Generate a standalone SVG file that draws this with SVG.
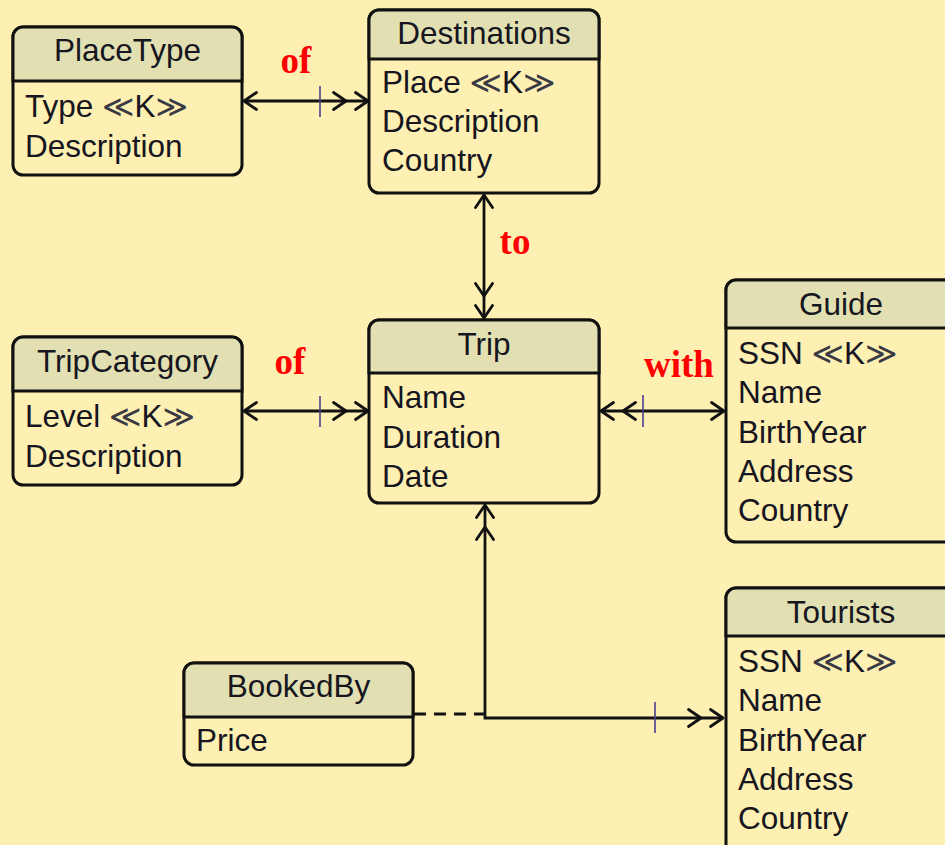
<svg xmlns="http://www.w3.org/2000/svg" width="945" height="845" viewBox="0 0 945 845">
<style>
.bg{fill:#FEEFB3}
.box{fill:#FEEFB3;stroke:#111;stroke-width:3}
.hdr{fill:#E2E0B2;stroke:#111;stroke-width:3}
.t{font-family:"Liberation Sans",Arial,sans-serif;font-size:31.5px;fill:#161620}
.h{text-anchor:middle}
.k{font-family:"DejaVu Sans","Liberation Sans",sans-serif;font-size:31px;fill:#3a3a44}
.lbl{font-family:"Liberation Serif","Times New Roman",serif;font-weight:bold;font-size:37px;fill:#F00;text-anchor:middle}
.ln{fill:none;stroke:#111;stroke-width:2.8}
.dash{fill:none;stroke:#111;stroke-width:2.8;stroke-dasharray:12 8}
.tick{stroke:#4a3f8f;stroke-width:1.6}
.ah{fill:none;stroke:#111;stroke-width:2.8;stroke-linejoin:round;stroke-linecap:round}
</style>
<defs>
<marker id="a1" markerUnits="userSpaceOnUse" viewBox="-16 -12 20 24" refX="0" refY="0" markerWidth="20" markerHeight="24" orient="auto-start-reverse">
<path class="ah" d="M-12.5 -8.5 L0 0 L-12.5 8.5"/>
</marker>
<marker id="a2" markerUnits="userSpaceOnUse" viewBox="-38 -12 42 24" refX="0" refY="0" markerWidth="42" markerHeight="24" orient="auto-start-reverse">
<path class="ah" d="M-12.5 -8.5 L0 0 L-12.5 8.5 M-34.5 -8.5 L-22 0 L-34.5 8.5"/>
</marker>
</defs>
<rect class="bg" x="0" y="0" width="945" height="845"/>

<g id="connectors">
<path class="ln" d="M244 101 H368" marker-start="url(#a1)" marker-end="url(#a2)"/>
<line class="tick" x1="320" y1="86" x2="320" y2="117"/>
<path class="ln" d="M484 195 V318" marker-start="url(#a1)" marker-end="url(#a2)"/>
<path class="ln" d="M244 411 H368" marker-start="url(#a1)" marker-end="url(#a2)"/>
<line class="tick" x1="320" y1="396" x2="320" y2="427"/>
<path class="ln" d="M601 411 H724" marker-start="url(#a2)" marker-end="url(#a1)"/>
<line class="tick" x1="643" y1="395" x2="643" y2="427"/>
<path class="ln" d="M485 505 V718 H723" marker-start="url(#a2)" marker-end="url(#a2)"/>
<line class="tick" x1="655" y1="702" x2="655" y2="733"/>
<path class="dash" d="M414 714 H485"/>
<text class="lbl" x="296" y="73">of</text>
<text class="lbl" x="515" y="254">to</text>
<text class="lbl" x="290" y="374">of</text>
<text class="lbl" x="679" y="377">with</text>
</g>

<g id="PlaceType">
<rect class="box" x="13" y="27" width="229" height="148" rx="10"/>
<path class="hdr" d="M13 81 V37 A10 10 0 0 1 23 27 H232 A10 10 0 0 1 242 37 V81 Z"/>
<text class="t h" x="127.5" y="61">PlaceType</text>
<text class="t" x="25" y="117">Type <tspan class="k">≪</tspan>K<tspan class="k">≫</tspan></text>
<text class="t" x="25" y="157">Description</text>
</g>

<g id="Destinations">
<rect class="box" x="369" y="10" width="230" height="183" rx="10"/>
<path class="hdr" d="M369 59 V20 A10 10 0 0 1 379 10 H589 A10 10 0 0 1 599 20 V59 Z"/>
<text class="t h" x="484" y="44">Destinations</text>
<text class="t" x="382" y="93">Place <tspan class="k">≪</tspan>K<tspan class="k">≫</tspan></text>
<text class="t" x="382" y="132">Description</text>
<text class="t" x="382" y="171">Country</text>
</g>

<g id="TripCategory">
<rect class="box" x="13" y="337" width="229" height="148" rx="10"/>
<path class="hdr" d="M13 391 V347 A10 10 0 0 1 23 337 H232 A10 10 0 0 1 242 347 V391 Z"/>
<text class="t h" x="127.5" y="372">TripCategory</text>
<text class="t" x="25" y="427">Level <tspan class="k">≪</tspan>K<tspan class="k">≫</tspan></text>
<text class="t" x="25" y="467">Description</text>
</g>

<g id="Trip">
<rect class="box" x="369" y="320" width="230" height="183" rx="10"/>
<path class="hdr" d="M369 373 V330 A10 10 0 0 1 379 320 H589 A10 10 0 0 1 599 330 V373 Z"/>
<text class="t h" x="484" y="355">Trip</text>
<text class="t" x="382" y="408">Name</text>
<text class="t" x="382" y="448">Duration</text>
<text class="t" x="382" y="487">Date</text>
</g>

<g id="Guide">
<rect class="box" x="726" y="280" width="230" height="262" rx="10"/>
<path class="hdr" d="M726 328 V290 A10 10 0 0 1 736 280 H946 A10 10 0 0 1 956 290 V328 Z"/>
<text class="t h" x="841" y="315">Guide</text>
<text class="t" x="738" y="364">SSN <tspan class="k">≪</tspan>K<tspan class="k">≫</tspan></text>
<text class="t" x="738" y="403">Name</text>
<text class="t" x="738" y="443">BirthYear</text>
<text class="t" x="738" y="482">Address</text>
<text class="t" x="738" y="521">Country</text>
</g>

<g id="Tourists">
<rect class="box" x="726" y="588" width="230" height="270" rx="10"/>
<path class="hdr" d="M726 636 V598 A10 10 0 0 1 736 588 H946 A10 10 0 0 1 956 598 V636 Z"/>
<text class="t h" x="841" y="623">Tourists</text>
<text class="t" x="738" y="672">SSN <tspan class="k">≪</tspan>K<tspan class="k">≫</tspan></text>
<text class="t" x="738" y="711">Name</text>
<text class="t" x="738" y="751">BirthYear</text>
<text class="t" x="738" y="790">Address</text>
<text class="t" x="738" y="829">Country</text>
</g>

<g id="BookedBy">
<rect class="box" x="184" y="663" width="229" height="102" rx="10"/>
<path class="hdr" d="M184 717 V673 A10 10 0 0 1 194 663 H403 A10 10 0 0 1 413 673 V717 Z"/>
<text class="t h" x="298.5" y="697">BookedBy</text>
<text class="t" x="196" y="751">Price</text>
</g>
</svg>
